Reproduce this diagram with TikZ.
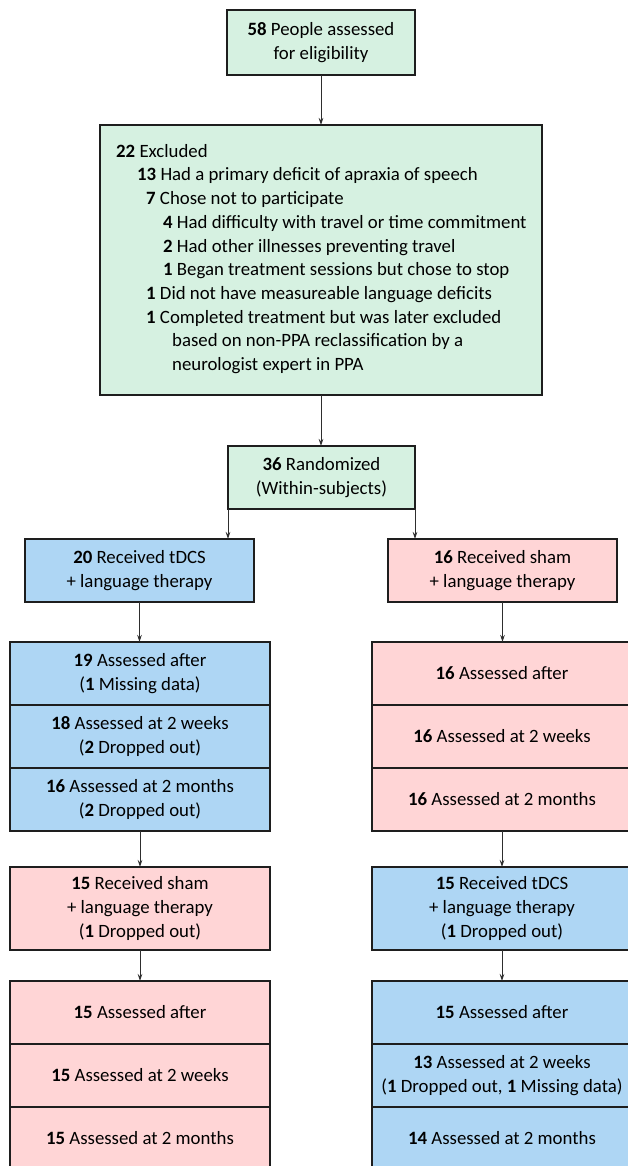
\documentclass[tikz,border=0pt]{standalone}
\usepackage{fontspec}
\setmainfont{Carlito}
\usetikzlibrary{arrows.meta}
\definecolor{gfill}{HTML}{D6F1E1}
\definecolor{bfill}{HTML}{AED6F4}
\definecolor{pfill}{HTML}{FFD5D6}
\definecolor{edge}{HTML}{1E1E1E}
\definecolor{arr}{HTML}{2E2E2E}
\tikzset{
  txt/.style={font=\fontsize{18.8}{23.7}\selectfont},
  box/.style={draw=edge, line width=1.2pt, inner sep=0pt, outer sep=0pt, align=center, txt},
  gbox/.style={box, fill=gfill},
  bbox/.style={box, fill=bfill},
  pbox/.style={box, fill=pfill},
  conn/.style={draw=arr, line width=0.8pt, -{Stealth[length=7pt,width=4.5pt]}},
}
\newcommand{\nb}[1]{\textbf{#1}}
\begin{document}
\begin{tikzpicture}[x=1pt,y=-1pt]
\clip (0,0) rectangle (628,1166);
\fill[white] (0,0) rectangle (628,1166);
% top
\node[gbox, minimum width=188pt, minimum height=65pt] (top) at (321,42.5)
  {\nb{58} People assessed\\for eligibility};
% excluded
\node[gbox, minimum width=442pt, minimum height=270pt] (excl) at (321,260) {};
\node[anchor=north west, inner sep=0pt, align=left, txt] (excltext) at (116,144)
  {\nb{22} Excluded\\
   \hspace*{21pt}\nb{13} Had a primary deficit of apraxia of speech\\
   \hspace*{30pt}\nb{7} Chose not to participate\\
   \hspace*{47pt}\nb{4} Had difficulty with travel or time commitment\\
   \hspace*{47pt}\nb{2} Had other illnesses preventing travel\\
   \hspace*{47pt}\nb{1} Began treatment sessions but chose to stop\\
   \hspace*{30pt}\nb{1} Did not have measureable language deficits\\
   \hspace*{30pt}\nb{1} Completed treatment but was later excluded\\
   \hspace*{56pt}based on non-PPA reclassification by a\\
   \hspace*{56pt}neurologist expert in PPA};
% randomized
\node[gbox, minimum width=187pt, minimum height=63pt] (rand) at (321.5,477.5)
  {\nb{36} Randomized\\(Within-subjects)};
% first arms
\node[bbox, minimum width=229pt, minimum height=63pt] (tdcsA) at (139.5,570.5)
  {\nb{20} Received tDCS\\+ language therapy};
\node[pbox, minimum width=229pt, minimum height=63pt] (shamA) at (502.5,570.5)
  {\nb{16} Received sham\\+ language therapy};
% left stack 1
\node[bbox, minimum width=260pt, minimum height=63pt] (L1) at (140,673.5)
  {\nb{19} Assessed after\\(\nb{1} Missing data)};
\node[bbox, minimum width=260pt, minimum height=63pt] (L2) at (140,736.5)
  {\nb{18} Assessed at 2 weeks\\(\nb{2} Dropped out)};
\node[bbox, minimum width=260pt, minimum height=63pt] (L3) at (140,799.5)
  {\nb{16} Assessed at 2 months\\(\nb{2} Dropped out)};
% right stack 1
\node[pbox, minimum width=260pt, minimum height=63pt] (R1) at (502,673.5)
  {\nb{16} Assessed after};
\node[pbox, minimum width=260pt, minimum height=63pt] (R2) at (502,736.5)
  {\nb{16} Assessed at 2 weeks};
\node[pbox, minimum width=260pt, minimum height=63pt] (R3) at (502,799.5)
  {\nb{16} Assessed at 2 months};
% crossover arms
\node[pbox, minimum width=260pt, minimum height=83pt] (shamB) at (140,908.5)
  {\nb{15} Received sham\\+ language therapy\\(\nb{1} Dropped out)};
\node[bbox, minimum width=260pt, minimum height=83pt] (tdcsB) at (502,908.5)
  {\nb{15} Received tDCS\\+ language therapy\\(\nb{1} Dropped out)};
% left stack 2
\node[pbox, minimum width=260pt, minimum height=63pt] (L4) at (140,1012.5)
  {\nb{15} Assessed after};
\node[pbox, minimum width=260pt, minimum height=63pt] (L5) at (140,1075.5)
  {\nb{15} Assessed at 2 weeks};
\node[pbox, minimum width=260pt, minimum height=63pt] (L6) at (140,1138.5)
  {\nb{15} Assessed at 2 months};
% right stack 2
\node[bbox, minimum width=260pt, minimum height=63pt] (R4) at (502,1012.5)
  {\nb{15} Assessed after};
\node[bbox, minimum width=260pt, minimum height=63pt] (R5) at (502,1075.5)
  {\nb{13} Assessed at 2 weeks\\(\nb{1} Dropped out, \nb{1} Missing data)};
\node[bbox, minimum width=260pt, minimum height=63pt] (R6) at (502,1138.5)
  {\nb{14} Assessed at 2 months};
% connectors
\draw[conn] (top.south) -- (excl.north);
\draw[conn] (excl.south) -- (excl.south |- rand.north);
\draw[conn] (rand.south west) -- (rand.south west |- tdcsA.north);
\draw[conn] (rand.south east) -- (rand.south east |- shamA.north);
\draw[conn] (tdcsA.south) -- (tdcsA.south |- L1.north);
\draw[conn] (shamA.south) -- (shamA.south |- R1.north);
\draw[conn] (L3.south) -- (shamB.north);
\draw[conn] (R3.south) -- (tdcsB.north);
\draw[conn] (shamB.south) -- (L4.north);
\draw[conn] (tdcsB.south) -- (R4.north);
\end{tikzpicture}
\end{document}
